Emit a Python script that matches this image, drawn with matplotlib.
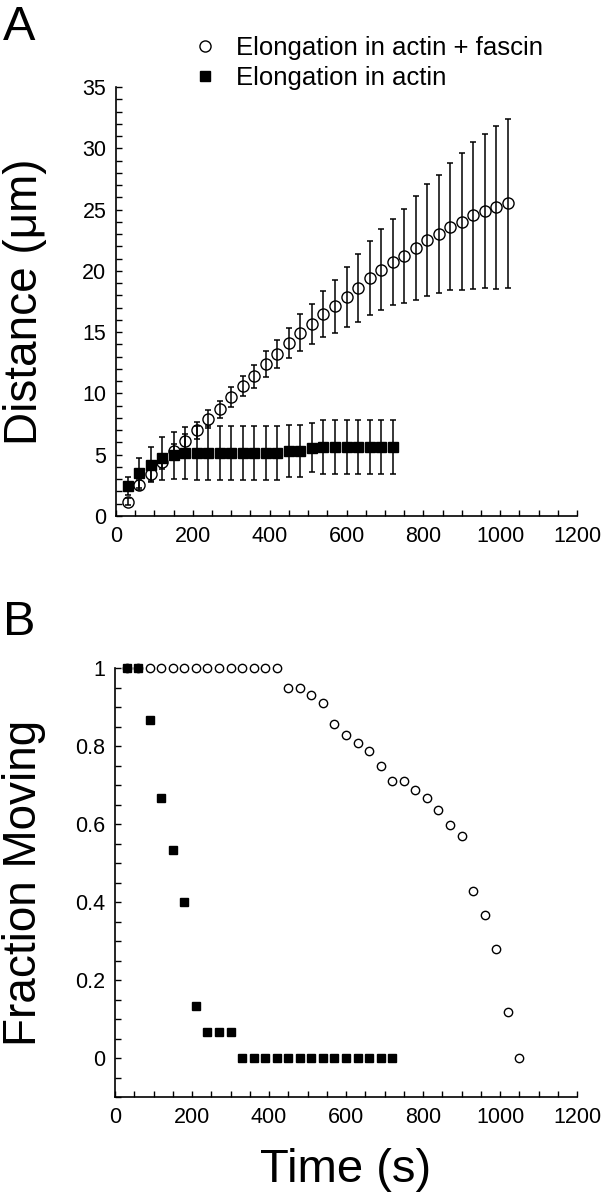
import matplotlib
matplotlib.use("Agg")
import matplotlib.pyplot as plt
from matplotlib.ticker import MultipleLocator, FormatStrFormatter

plt.rcParams['font.family'] = ['Liberation Sans', 'DejaVu Sans']

# panel A: distance vs time
time_fascin = [30, 60, 90, 120, 150, 180, 210, 240, 270, 300, 330, 360, 390, 420,
               450, 480, 510, 540, 570, 600, 630, 660, 690, 720, 750, 780, 810,
               840, 870, 900, 930, 960, 990, 1020]
dist_fascin = [1.17, 2.5, 3.45, 4.4, 5.3, 6.1, 7.0, 7.9, 8.7, 9.7, 10.6, 11.4, 12.4,
               13.2, 14.1, 14.95, 15.7, 16.5, 17.1, 17.9, 18.6, 19.4, 20.1, 20.7,
               21.2, 21.9, 22.5, 23.0, 23.6, 24.0, 24.55, 24.9, 25.2, 25.5]
err_fascin = [0.3, 0.4, 0.6, 0.6, 0.6, 0.6, 0.7, 0.75, 0.7, 0.8, 0.85, 0.93, 1.07,
              1.15, 1.2, 1.5, 1.63, 1.87, 2.18, 2.45, 2.78, 3.0, 3.3, 3.5, 3.83,
              4.24, 4.55, 4.78, 5.2, 5.58, 6.0, 6.3, 6.65, 6.9]

time_actin = [30, 60, 90, 120, 150, 180, 210, 240, 270, 300, 330, 360, 390, 420,
              450, 480, 510, 540, 570, 600, 630, 660, 690, 720]
dist_actin = [2.45, 3.5, 4.2, 4.7, 4.95, 5.15, 5.15, 5.15, 5.15, 5.15, 5.15, 5.15,
              5.15, 5.15, 5.3, 5.3, 5.55, 5.65, 5.65, 5.65, 5.65, 5.65, 5.65, 5.65]
err_actin = [0.75, 1.2, 1.4, 1.75, 1.9, 2.1, 2.2, 2.2, 2.2, 2.2, 2.2, 2.2, 2.2, 2.2,
             2.1, 2.1, 2.0, 2.2, 2.2, 2.2, 2.2, 2.2, 2.2, 2.2]

# panel B: fraction moving
time_b_fascin = [30, 60, 90, 120, 150, 180, 210, 240, 270, 300, 330, 360, 390, 420,
                 450, 480, 510, 540, 570, 600, 630, 660, 690, 720, 750, 780, 810,
                 840, 870, 900, 930, 960, 990, 1020, 1050]
frac_fascin = [1, 1, 1, 1, 1, 1, 1, 1, 1, 1, 1, 1, 1, 1,
               0.95, 0.95, 0.93, 0.91, 0.857, 0.827, 0.808, 0.788, 0.748, 0.709,
               0.709, 0.688, 0.666, 0.637, 0.598, 0.568, 0.427, 0.367, 0.279, 0.119, 0.0]

time_b_actin = [30, 60, 90, 120, 150, 180, 210, 240, 270, 300, 330, 360, 390, 420,
                450, 480, 510, 540, 570, 600, 630, 660, 690, 720]
frac_actin = [1, 1, 0.867, 0.667, 0.533, 0.4, 0.133, 0.067, 0.067, 0.067,
              0, 0, 0, 0, 0, 0, 0, 0, 0, 0, 0, 0, 0, 0]

label_fascin = "Elongation in actin + fascin"
label_actin = "Elongation in actin"

W, H = 612, 1199
fig = plt.figure(figsize=(W / 100, H / 100), dpi=100)
axA = fig.add_axes([116 / W, 1 - 516 / H, (577 - 116) / W, (516 - 87) / H])
axB = fig.add_axes([115 / W, 1 - 1097 / H, (577 - 115) / W, (1097 - 668) / H])


def style_axes(ax):
    for s in ['top', 'right']:
        ax.spines[s].set_visible(False)
    for s in ['left', 'bottom']:
        ax.spines[s].set_linewidth(1.2)
    ax.tick_params(which='both', direction='in', length=4, width=1,
                   labelsize=15.5, pad=7)
    ax.set_xlim(0, 1200)
    ax.xaxis.set_major_locator(MultipleLocator(200))
    ax.xaxis.set_minor_locator(MultipleLocator(50))


# --- A ---
style_axes(axA)
axA.errorbar(time_fascin, dist_fascin, yerr=err_fascin, fmt='none', ecolor='black',
             elinewidth=1.1, capsize=2.3, capthick=1.1, zorder=2)
circ, = axA.plot(time_fascin, dist_fascin, 'o', ms=8, mfc='none', mec='black',
                 mew=1.0, zorder=3, label=label_fascin)
axA.errorbar(time_actin, dist_actin, yerr=err_actin, fmt='none', ecolor='black',
             elinewidth=1.1, capsize=2.3, capthick=1.1, zorder=4)
sq, = axA.plot(time_actin, dist_actin, 's', ms=6.5, color='black', zorder=5,
               label=label_actin)
axA.set_ylim(0, 35)
axA.yaxis.set_major_locator(MultipleLocator(5))
axA.yaxis.set_minor_locator(MultipleLocator(1))
axA.set_ylabel("Distance (\u03bcm)", fontsize=33)
axA.yaxis.set_label_coords(-0.15, 0.5)
fig.legend(handles=[circ, sq], loc='upper left', bbox_to_anchor=(195 / W, 1 - 36 / H),
           frameon=False, fontsize=18.5, handlelength=0.8, handletextpad=0.8,
           labelspacing=0.25, borderaxespad=0, borderpad=0)
fig.text(3 / W, 1 - 5 / H, "A", fontsize=35, va='top', ha='left')

# --- B ---
style_axes(axB)
axB.plot(time_b_fascin, frac_fascin, 'o', ms=6, mfc='none', mec='black', mew=1.0,
         clip_on=False, zorder=3)
axB.plot(time_b_actin, frac_actin, 's', ms=6, color='black', clip_on=False, zorder=4)
axB.set_ylim(-0.1, 1.0)
axB.yaxis.set_major_locator(MultipleLocator(0.2))
axB.yaxis.set_minor_locator(MultipleLocator(0.05))
axB.yaxis.set_major_formatter(FormatStrFormatter('%g'))
axB.set_ylabel("Fraction Moving", fontsize=33)
axB.yaxis.set_label_coords(-0.15, 0.5)
axB.set_xlabel("Time (s)", fontsize=34)
axB.xaxis.set_label_coords(0.5, -0.12)
fig.text(3 / W, 1 - 600 / H, "B", fontsize=35, va='top', ha='left')

fig.savefig("out.png", dpi=100)
